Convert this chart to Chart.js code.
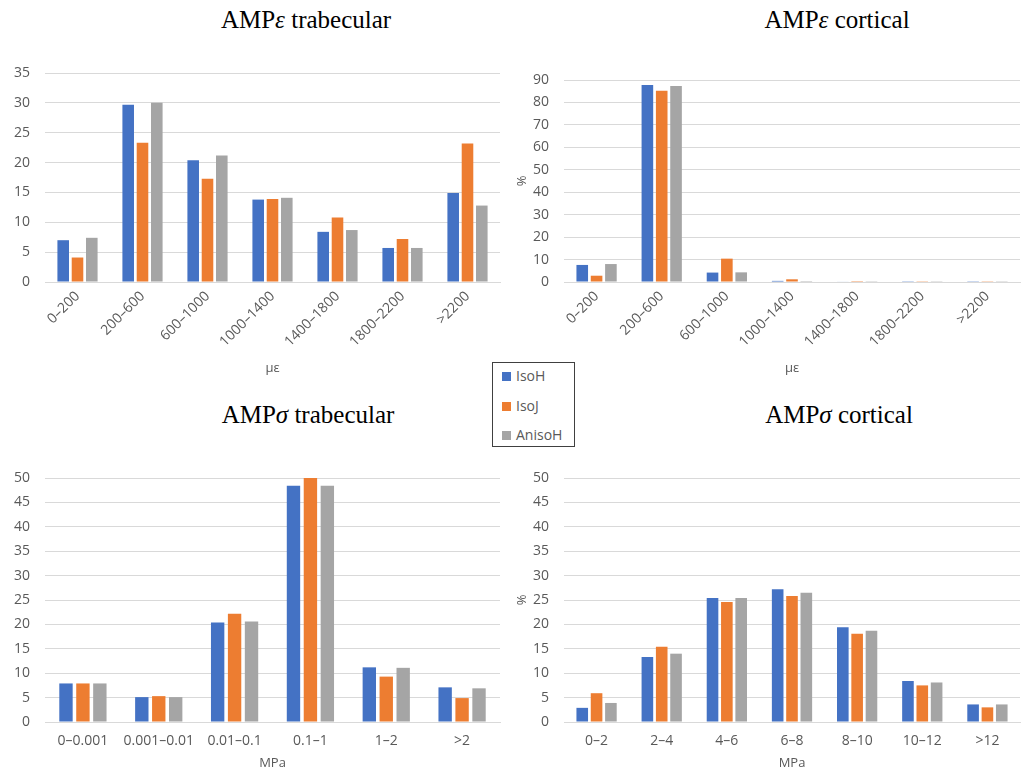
<!DOCTYPE html>
<html>
<head>
<meta charset="utf-8">
<script src="https://cdn.jsdelivr.net/npm/chart.js@4.4.1/dist/chart.umd.min.js"></script>
<style>
  html, body { margin: 0; padding: 0; background: #fff; }
  body { width: 1021px; height: 771px; position: relative; overflow: hidden; font-family: "Open Sans", sans-serif; }
  .title { position: absolute; font-family: "Liberation Serif", "Times New Roman", serif; font-size: 25px; line-height: 25px; color: #000; white-space: nowrap; transform: translateX(-50%); }
  .wrap { position: absolute; }
  .legend { position: absolute; left: 492px; top: 362px; width: 83px; height: 85px; border: 1px solid #404040; background: #fff; box-sizing: border-box; }
  .li { position: absolute; left: 9px; font-size: 14px; color: #595959; line-height: 18px; white-space: nowrap; }
  .sw { display: inline-block; width: 9px; height: 9px; margin-right: 5px; vertical-align: 0px; }
</style>
</head>
<body>

<div class="title" style="left:306px; top:7px;">AMP<i>ε</i> trabecular</div>
<div class="title" style="left:837px; top:7px;">AMP<i>ε</i> cortical</div>
<div class="title" style="left:308px; top:402px;">AMP<i>σ</i> trabecular</div>
<div class="title" style="left:839px; top:402px;">AMP<i>σ</i> cortical</div>

<div class="wrap" style="left:0px; top:40px; width:510px; height:340px;"><canvas id="c1"></canvas></div>
<div class="wrap" style="left:510px; top:40px; width:511px; height:340px;"><canvas id="c2"></canvas></div>
<div class="wrap" style="left:0px; top:440px; width:510px; height:331px;"><canvas id="c3"></canvas></div>
<div class="wrap" style="left:510px; top:440px; width:511px; height:331px;"><canvas id="c4"></canvas></div>

<div class="legend">
  <div class="li" style="top:4px;"><span class="sw" style="background:#4472C4"></span>IsoH</div>
  <div class="li" style="top:34px;"><span class="sw" style="background:#ED7D31"></span>IsoJ</div>
  <div class="li" style="top:63px;"><span class="sw" style="background:#A5A5A5"></span>AnisoH</div>
</div>

<script>
// ---- Data ----
const seriesNames = ["IsoH", "IsoJ", "AnisoH"];
const seriesColors = ["#4472C4", "#ED7D31", "#A5A5A5"];

const strainCategories = ["0–200", "200–600", "600–1000", "1000–1400", "1400–1800", "1800–2200", ">2200"];
const strainTrabIsoH   = [7.0, 29.7, 20.4, 13.8, 8.4, 5.7, 14.9];
const strainTrabIsoJ   = [4.1, 23.3, 17.3, 13.9, 10.8, 7.2, 23.2];
const strainTrabAnisoH = [7.4, 30.0, 21.2, 14.1, 8.7, 5.7, 12.8];

const strainCortIsoH   = [7.6, 87.8, 4.2, 0.5, 0.2, 0.1, 0.1];
const strainCortIsoJ   = [2.8, 85.2, 10.4, 1.2, 0.4, 0.1, 0.1];
const strainCortAnisoH = [8.0, 87.3, 4.3, 0.4, 0.1, 0.1, 0.1];

const stressTrabCategories = ["0–0.001", "0.001–0.01", "0.01–0.1", "0.1–1", "1–2", ">2"];
const stressTrabIsoH   = [7.9, 5.1, 20.4, 48.4, 11.2, 7.1];
const stressTrabIsoJ   = [7.9, 5.3, 22.2, 50.0, 9.3, 4.9];
const stressTrabAnisoH = [7.9, 5.1, 20.6, 48.4, 11.1, 6.9];

const stressCortCategories = ["0–2", "2–4", "4–6", "6–8", "8–10", "10–12", ">12"];
const stressCortIsoH   = [2.9, 13.3, 25.4, 27.2, 19.4, 8.4, 3.6];
const stressCortIsoJ   = [5.9, 15.4, 24.6, 25.8, 18.1, 7.5, 3.0];
const stressCortAnisoH = [3.9, 14.0, 25.4, 26.5, 18.7, 8.1, 3.6];

// ---- Helpers ----
const tickColor = "#595959";
const gridColor = "#D9D9D9";
const tickFont = { family: "'Open Sans', sans-serif", size: 14 };
const axisFont = { family: "'Open Sans', sans-serif", size: 13 };

function makeDatasets(arrs, catPct, barPct) {
  return arrs.map((d, i) => ({
    label: seriesNames[i],
    data: d,
    backgroundColor: seriesColors[i],
    borderWidth: 0,
    categoryPercentage: catPct,
    barPercentage: barPct
  }));
}

function makeChart(id, cfg) {
  const yFit = cfg.yWidth, xFit = cfg.xHeight;
  return new Chart(document.getElementById(id), {
    type: "bar",
    data: { labels: cfg.labels, datasets: makeDatasets(cfg.series, cfg.catPct, cfg.barPct) },
    options: {
      responsive: true,
      maintainAspectRatio: false,
      animation: false,
      layout: { padding: { top: cfg.padTop, right: cfg.padRight, left: 0, bottom: 0 } },
      plugins: { legend: { display: false }, title: { display: false }, tooltip: { enabled: false } },
      scales: {
        x: {
          grid: { display: false, drawTicks: false },
          border: { display: true, color: gridColor, width: 1 },
          ticks: {
            color: tickColor, font: tickFont, autoSkip: false,
            maxRotation: cfg.rotate ? 45 : 0, minRotation: cfg.rotate ? 45 : 0,
            padding: cfg.rotate ? 6 : 11
          },
          title: { display: true, text: cfg.xTitle, color: tickColor, font: axisFont, padding: { top: 2, bottom: cfg.xTitlePad } },
          afterFit: s => { s.height = xFit; }
        },
        y: {
          min: 0, max: cfg.yMax,
          ticks: { stepSize: cfg.yStep, color: tickColor, font: tickFont, padding: 15 },
          grid: { color: gridColor, lineWidth: 1, drawTicks: false },
          border: { display: false },
          title: { display: !!cfg.yTitle, text: cfg.yTitle || "", color: tickColor, font: axisFont, padding: { top: 4, bottom: 4 } },
          afterFit: s => { s.width = yFit; }
        }
      }
    }
  });
}

makeChart("c1", {
  labels: strainCategories, series: [strainTrabIsoH, strainTrabIsoJ, strainTrabAnisoH],
  yMax: 35, yStep: 5, yWidth: 45, xHeight: 98, padTop: 33, padRight: 10,
  rotate: true, xTitle: "με", xTitlePad: 4, catPct: 0.66, barPct: 0.81
});
makeChart("c2", {
  labels: strainCategories, series: [strainCortIsoH, strainCortIsoJ, strainCortAnisoH],
  yMax: 90, yStep: 10, yWidth: 54, xHeight: 98, padTop: 40, padRight: 1,
  rotate: true, xTitle: "με", xTitlePad: 4, yTitle: "%", catPct: 0.66, barPct: 0.81
});
makeChart("c3", {
  labels: stressTrabCategories, series: [stressTrabIsoH, stressTrabIsoJ, stressTrabAnisoH],
  yMax: 50, yStep: 5, yWidth: 45, xHeight: 49, padTop: 38, padRight: 10,
  rotate: false, xTitle: "MPa", xTitlePad: 0, catPct: 0.67, barPct: 0.79
});
makeChart("c4", {
  labels: stressCortCategories, series: [stressCortIsoH, stressCortIsoJ, stressCortAnisoH],
  yMax: 50, yStep: 5, yWidth: 54, xHeight: 49, padTop: 38, padRight: 1,
  rotate: false, xTitle: "MPa", xTitlePad: 0, yTitle: "%", catPct: 0.66, barPct: 0.81
});
</script>
</body>
</html>
